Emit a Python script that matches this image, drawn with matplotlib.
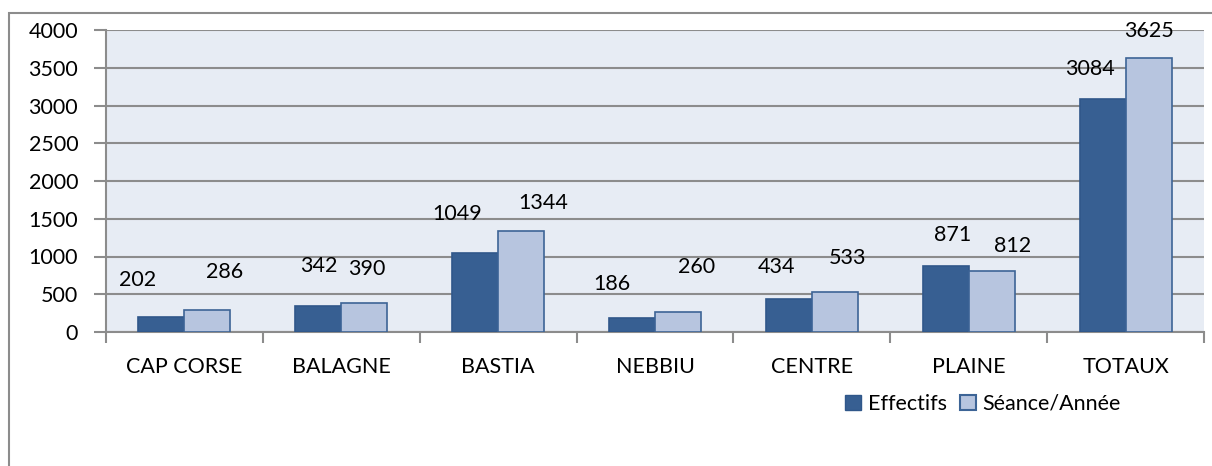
import matplotlib
matplotlib.use("Agg")
import matplotlib.pyplot as plt
import numpy as np
from matplotlib.patches import Rectangle, Patch

categories = ["CAP CORSE", "BALAGNE", "BASTIA", "NEBBIU", "CENTRE", "PLAINE", "TOTAUX"]
effectifs = [202, 342, 1049, 186, 434, 871, 3084]
seances = [286, 390, 1344, 260, 533, 812, 3625]
series_names = ["Effectifs", "Séance/Année"]
yticks = [0, 500, 1000, 1500, 2000, 2500, 3000, 3500, 4000]

# label offsets (pixels) relative to bar-top centre, mimicking the reference placement
eff_off = [(-24, 37), (0, 40), (-18, 39), (-20, 34), (-12, 32), (7, 31), (-13, 30)]
sea_off = [(17, 38), (3, 34), (22, 28), (19, 45), (13, 34), (21, 25), (0, 27)]

plt.rcParams['font.family'] = ['Lato', 'DejaVu Sans']
FS = 15.5
W, H = 1212, 466
fig = plt.figure(figsize=(W / 100, H / 100), dpi=100)

# outer chart border
fig.add_artist(Rectangle((9 / W, -0.1), 1.2, (H - 13) / H + 0.1, transform=fig.transFigure,
                         fill=False, edgecolor="#8c8c8c", linewidth=1.5))

ax = fig.add_axes([106 / W, 1 - 332 / H, (1204 - 106) / W, (332 - 30) / H])
ax.set_facecolor("#e7ecf4")

dark = "#375f92"
light = "#b7c5df"
x = np.arange(len(categories))
bw = 0.293
b1 = ax.bar(x - bw / 2, effectifs, bw, color=dark, edgecolor="#30578a", linewidth=1.2, zorder=3)
b2 = ax.bar(x + bw / 2, seances, bw, color=light, edgecolor="#3d6496", linewidth=1.2, zorder=3)

for rects, vals, offs in ((b1, effectifs, eff_off), (b2, seances, sea_off)):
    for r, v, (dx, dy) in zip(rects, vals, offs):
        ax.annotate(str(v), (r.get_x() + r.get_width() / 2, r.get_height()),
                    xytext=(dx, dy), textcoords="offset pixels",
                    ha="center", va="center", fontsize=FS, color="black", zorder=5)

ax.set_xlim(-0.5, len(categories) - 0.5)
ax.set_ylim(0, 4000)
ax.set_yticks(yticks)
ax.set_yticklabels([str(t) for t in yticks], fontsize=FS)
ax.yaxis.grid(True, color="#8c8c8c", linewidth=1.5, zorder=1)
ax.set_axisbelow(True)

ax.set_xticks(x)
ax.set_xticklabels(categories, fontsize=FS)
ax.set_xticks(np.arange(len(categories) + 1) - 0.5, minor=True)
ax.tick_params(axis="x", which="major", length=0, pad=18)
ax.tick_params(axis="x", which="minor", length=8, width=1.5, color="#8c8c8c")
ax.tick_params(axis="y", length=9, width=1.5, color="#8c8c8c", pad=11)

for s in ("top", "right"):
    ax.spines[s].set_visible(False)
ax.spines["left"].set_color("#8c8c8c")
ax.spines["left"].set_linewidth(1.5)
ax.spines["bottom"].set_color("#8c8c8c")
ax.spines["bottom"].set_linewidth(1.5)

handles = [Patch(facecolor=dark, edgecolor="#30578a"), Patch(facecolor=light, edgecolor="#3d6496", linewidth=1.5)]
fig.legend(handles, series_names, loc="center", bbox_to_anchor=(983 / W, 1 - 404 / H),
           ncol=2, frameon=False, fontsize=FS, handlelength=0.75, handleheight=0.75,
           handletextpad=0.3, columnspacing=0.6)

fig.savefig("out.png", dpi=100)
